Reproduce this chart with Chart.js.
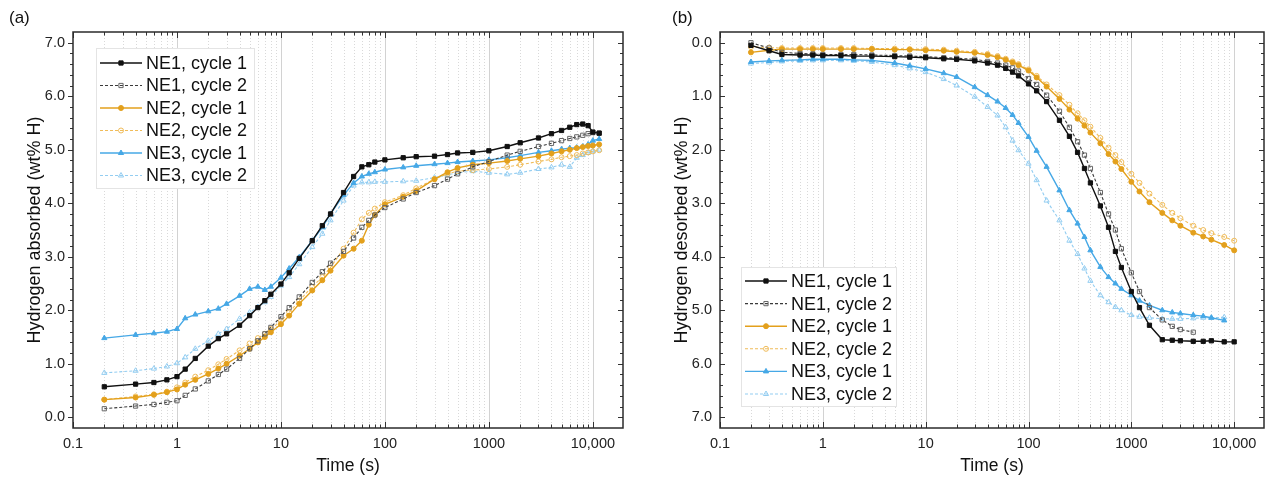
<!DOCTYPE html>
<html><head><meta charset="utf-8">
<script src="https://cdn.jsdelivr.net/npm/chart.js@4.4.1/dist/chart.umd.min.js"></script>
<style>
html,body{margin:0;padding:0;background:#fff;}
#wrap{position:relative;width:1269px;height:479px;overflow:hidden;background:#fff;}
#cA{position:absolute;left:0;top:0;}
#cB{position:absolute;left:640px;top:0;}
</style></head><body>
<div id="wrap"><canvas id="cA" width="640" height="479"></canvas><canvas id="cB" width="629" height="479"></canvas></div>
<script>
const FONT = '"Liberation Sans", Arial, sans-serif';

// ---- axis ticks ----
const xTickValues = [0.1, 1, 10, 100, 1000, 10000];
const xTickLabels = ['0.1', '1', '10', '100', '1000', '10,000'];
const yTickValues = [0, 1, 2, 3, 4, 5, 6, 7];
const seriesNames = ['NE1, cycle 1', 'NE1, cycle 2', 'NE2, cycle 1', 'NE2, cycle 2', 'NE3, cycle 1', 'NE3, cycle 2'];

// ---- (a) absorption: time (s) and wt% H ----
const timeAbs = [0.2,0.4,0.6,0.8,1,1.2,1.5,2,2.5,3,4,5,6,7,8,10,12,15,20,25,30,40,50,60,70,80,100,150,200,300,400,500,700,1000,1500,2000,3000,4000,5000,6000,7000,8000,9000,10000,11500];
const absNE1c1 = [0.57,0.62,0.65,0.70,0.76,0.90,1.10,1.33,1.47,1.56,1.72,1.90,2.05,2.18,2.30,2.49,2.70,2.97,3.30,3.58,3.80,4.20,4.50,4.68,4.72,4.77,4.81,4.85,4.87,4.88,4.91,4.94,4.95,4.98,5.06,5.13,5.22,5.30,5.36,5.42,5.47,5.48,5.45,5.33,5.31];
const absNE1c2 = [0.16,0.21,0.24,0.28,0.31,0.41,0.53,0.68,0.80,0.90,1.10,1.28,1.43,1.56,1.68,1.88,2.05,2.25,2.52,2.72,2.88,3.10,3.35,3.55,3.68,3.78,3.92,4.08,4.20,4.33,4.45,4.55,4.68,4.78,4.90,4.97,5.06,5.12,5.17,5.21,5.24,5.27,5.30,5.32,5.31];
const absNE2c1 = [0.33,0.37,0.42,0.47,0.52,0.61,0.70,0.81,0.91,1.00,1.15,1.28,1.40,1.50,1.59,1.74,1.90,2.12,2.37,2.56,2.74,3.02,3.15,3.30,3.60,3.78,3.98,4.12,4.23,4.45,4.58,4.66,4.72,4.75,4.79,4.83,4.88,4.93,4.97,5.00,5.03,5.05,5.07,5.08,5.10];
const absNE2c2 = [0.33,0.39,0.43,0.48,0.56,0.65,0.76,0.88,0.99,1.09,1.25,1.38,1.48,1.56,1.65,1.80,1.96,2.18,2.44,2.62,2.80,3.15,3.45,3.70,3.82,3.90,4.02,4.15,4.28,4.45,4.55,4.60,4.62,4.64,4.68,4.72,4.78,4.82,4.86,4.88,4.90,4.93,4.95,4.97,4.99];
const absNE3c1 = [1.48,1.54,1.57,1.60,1.65,1.85,1.92,1.98,2.03,2.12,2.27,2.40,2.44,2.38,2.44,2.61,2.78,2.99,3.30,3.55,3.80,4.15,4.38,4.50,4.55,4.58,4.63,4.67,4.70,4.73,4.75,4.77,4.79,4.81,4.85,4.89,4.95,4.98,5.01,5.03,5.04,5.06,5.10,5.17,5.20];
const absNE3c2 = [0.83,0.87,0.91,0.95,1.01,1.12,1.28,1.43,1.56,1.65,1.84,1.96,2.06,2.15,2.25,2.46,2.62,2.86,3.18,3.43,3.68,4.05,4.33,4.39,4.39,4.40,4.40,4.41,4.42,4.48,4.53,4.57,4.60,4.57,4.54,4.57,4.64,4.67,4.72,4.68,4.85,4.90,4.94,4.97,5.00];

// ---- (b) desorption: time (s) and wt% H ----
const timeDes = [0.2,0.3,0.4,0.6,0.8,1,1.5,2,3,5,7,10,15,20,30,40,50,60,70,80,100,120,150,200,250,300,350,400,500,600,700,800,1000,1200,1500,2000,2500,3000,4000,5000,6000,8000,10000];
const desNE1c1 = [0.05,0.15,0.22,0.23,0.23,0.24,0.24,0.25,0.25,0.26,0.27,0.28,0.30,0.31,0.34,0.38,0.42,0.48,0.55,0.62,0.77,0.90,1.10,1.45,1.75,2.05,2.35,2.62,3.05,3.45,3.90,4.20,4.65,4.95,5.28,5.55,5.56,5.57,5.58,5.58,5.57,5.59,5.59];
const desNE1c2 = [0.00,0.10,0.18,0.20,0.21,0.22,0.22,0.22,0.23,0.24,0.25,0.26,0.28,0.29,0.31,0.35,0.38,0.42,0.47,0.53,0.67,0.78,0.98,1.28,1.58,1.85,2.10,2.35,2.80,3.20,3.50,3.85,4.30,4.65,4.95,5.18,5.30,5.36,5.41,null,null,null,null];
const desNE2c1 = [0.18,0.14,0.12,0.12,0.12,0.12,0.12,0.12,0.12,0.13,0.13,0.14,0.15,0.17,0.19,0.23,0.27,0.32,0.37,0.42,0.52,0.65,0.82,1.05,1.25,1.42,1.55,1.68,1.88,2.08,2.22,2.36,2.60,2.78,2.98,3.18,3.32,3.42,3.55,3.62,3.68,3.78,3.88];
const desNE2c2 = [0.08,0.09,0.10,0.10,0.10,0.10,0.10,0.10,0.11,0.11,0.12,0.12,0.13,0.15,0.17,0.21,0.25,0.30,0.35,0.40,0.50,0.62,0.78,0.98,1.16,1.32,1.45,1.57,1.78,1.96,2.10,2.23,2.45,2.62,2.82,3.03,3.18,3.28,3.42,3.50,3.56,3.63,3.70];
const desNE3c1 = [0.36,0.34,0.33,0.32,0.31,0.31,0.31,0.32,0.33,0.38,0.43,0.49,0.57,0.64,0.83,0.98,1.10,1.22,1.35,1.50,1.76,2.02,2.32,2.76,3.13,3.38,3.63,3.88,4.19,4.38,4.50,4.60,4.72,4.82,4.91,5.00,5.04,5.06,5.09,5.11,5.14,5.19,null];
const desNE3c2 = [0.39,0.37,0.35,0.34,0.33,0.33,0.33,0.34,0.36,0.42,0.48,0.55,0.68,0.80,1.01,1.20,1.36,1.58,1.83,2.01,2.26,2.57,2.95,3.32,3.70,3.95,4.22,4.45,4.72,4.85,4.94,5.00,5.09,5.12,5.14,5.16,5.16,5.16,5.15,5.14,5.14,5.13,null];

// ---- styles ----
const seriesColors = ['#111111', '#3a3a3a', '#E3A01C', '#F0BC5A', '#46A8E6', '#93CDF1'];
const markerColors = ['#111111', '#666666', '#E3A01C', '#F0BC5A', '#46A8E6', '#93CDF1'];
const markerStyles = ['rect', 'rect', 'circle', 'circle', 'triangle', 'triangle'];
const markerFilled = [true, false, true, false, true, false];
const lineDashes = [[], [3, 2], [], [3, 2], [], [3, 2]];

function makeDatasets(times, seriesVals) {
  return seriesVals.map((vals, i) => ({
    label: seriesNames[i],
    data: times.map((t, k) => ({x: t, y: vals[k]})).filter(p => p.y !== null),
    borderColor: seriesColors[i],
    borderWidth: markerFilled[i] ? 1.4 : 1.1,
    borderDash: lineDashes[i],
    pointStyle: markerStyles[i],
    pointRadius: markerStyles[i] === 'rect' ? 3 : (markerStyles[i] === 'circle' ? 2.5 : 3),
    pointBorderWidth: 1,
    pointBorderColor: markerColors[i],
    pointBackgroundColor: markerFilled[i] ? markerColors[i] : 'rgba(255,255,255,0)',
    tension: 0,
    fill: false
  }));
}

function drawMarker(ctx, ds, x, y) {
  ctx.fillStyle = ds.pointBackgroundColor;
  ctx.strokeStyle = ds.pointBorderColor;
  ctx.lineWidth = ds.pointBorderWidth;
  Chart.helpers.drawPoint(ctx, {pointStyle: ds.pointStyle, radius: ds.pointRadius, rotation: 0, borderWidth: ds.pointBorderWidth}, x, y);
}

const boxPlugin = {
  id: 'boxPlugin',
  beforeDatasetsDraw(chart, args, o) {
    const {ctx, chartArea: a, scales: {x}} = chart;
    ctx.save();
    ctx.beginPath(); ctx.rect(a.left, a.top, a.right - a.left, a.bottom - a.top); ctx.clip();
    for (let e = -1; e <= 4; e++) {
      for (let m = 1; m <= 9; m++) {
        const v = m * Math.pow(10, e);
        if (v <= x.min * 1.0001 || v > x.max) continue;
        const px = Math.round(x.getPixelForValue(v)) + 0.5;
        ctx.beginPath();
        ctx.lineWidth = 1;
        if (m === 1) { ctx.strokeStyle = '#d2d2d2'; ctx.setLineDash([]); }
        else { ctx.strokeStyle = '#d9d9d9'; ctx.setLineDash([1, 2]); }
        ctx.moveTo(px, a.top); ctx.lineTo(px, a.bottom); ctx.stroke();
      }
    }
    ctx.restore();
  },
  afterDatasetsDraw(chart, args, o) {
    const {ctx, chartArea: a, scales: {x, y}} = chart;
    ctx.save();
    ctx.strokeStyle = '#333'; ctx.lineWidth = 1; ctx.setLineDash([]);
    ctx.beginPath();
    for (let e = -1; e <= 4; e++) {
      for (let m = 1; m <= 9; m++) {
        const v = m * Math.pow(10, e);
        if (v < x.min || v > x.max) continue;
        const px = Math.round(x.getPixelForValue(v)) + 0.5;
        const len = m === 1 ? 6 : 3.5;
        ctx.moveTo(px, a.bottom); ctx.lineTo(px, a.bottom - len);
        ctx.moveTo(px, a.top); ctx.lineTo(px, a.top + len);
      }
    }
    for (let i = 0; i <= 35; i++) {
      const v = i * 0.2;
      const py = Math.round(y.getPixelForValue(v)) + 0.5;
      const len = i % 5 === 0 ? 5 : 3;
      ctx.moveTo(a.left, py); ctx.lineTo(o.leftOut ? a.left - len : a.left + len, py);
      ctx.moveTo(a.right, py); ctx.lineTo(a.right - len, py);
    }
    ctx.stroke();
    ctx.lineWidth = 1.5; ctx.strokeStyle = '#2b2b2b';
    ctx.strokeRect(a.left, a.top, a.right - a.left, a.bottom - a.top);
    ctx.restore();
  },
  afterDraw(chart, args, o) {
    const ctx = chart.ctx;
    ctx.save();
    ctx.font = '17px ' + FONT; ctx.fillStyle = '#111'; ctx.textBaseline = 'middle'; ctx.textAlign = 'left';
    ctx.fillText(o.panel, o.panelX, 18);
    const L = o.legend;
    ctx.fillStyle = '#fff'; ctx.fillRect(L.x, L.y, L.w, L.h);
    ctx.strokeStyle = '#e4e4e4'; ctx.lineWidth = 1; ctx.strokeRect(L.x + 0.5, L.y + 0.5, L.w, L.h);
    chart.data.datasets.forEach((ds, i) => {
      const cy = L.y + L.first + i * L.row;
      const x0 = L.x + 4, x1 = x0 + 42;
      ctx.strokeStyle = ds.borderColor; ctx.lineWidth = ds.borderWidth; ctx.setLineDash(ds.borderDash);
      ctx.beginPath(); ctx.moveTo(x0, cy); ctx.lineTo(x1, cy); ctx.stroke();
      ctx.setLineDash([]);
      drawMarker(ctx, ds, (x0 + x1) / 2, cy);
      ctx.fillStyle = '#111'; ctx.font = '18px ' + FONT; ctx.textBaseline = 'middle';
      ctx.fillText(ds.label, x1 + 4, cy + 1);
    });
    ctx.restore();
  }
};

function makeChart(id, datasets, cfg) {
  return new Chart(document.getElementById(id), {
    type: 'line',
    data: {datasets},
    plugins: [boxPlugin],
    options: {
      responsive: false, animation: false, events: [],
      layout: {padding: {left: 0, right: cfg.padRight, top: 32, bottom: 0}},
      plugins: {legend: {display: false}, tooltip: {enabled: false}, boxPlugin: cfg.box},
      scales: {
        x: {
          type: 'logarithmic', min: 0.1, max: 19500,
          afterBuildTicks: s => { s.ticks = xTickValues.map(v => ({value: v})); },
          afterFit: s => { s.height = 51; },
          grid: {display: false, drawTicks: false}, border: {display: false},
          ticks: {autoSkip: false, maxRotation: 0, padding: 7, color: '#222', font: {family: FONT, size: 14.5},
                  callback: v => xTickLabels[xTickValues.indexOf(v)]},
          title: {display: true, text: 'Time (s)', color: '#111', font: {family: FONT, size: 17.5}, padding: {top: 0, bottom: 2}}
        },
        y: {
          type: 'linear', min: -0.2, max: 7.2, reverse: cfg.reverse,
          afterBuildTicks: s => { s.ticks = yTickValues.map(v => ({value: v})); },
          afterFit: s => { s.width = cfg.yWidth; },
          grid: {display: false, drawTicks: false}, border: {display: false},
          ticks: {padding: 8, color: '#222', font: {family: FONT, size: 14.5}, callback: v => Number(v).toFixed(1)},
          title: {display: true, text: cfg.yTitle, color: '#111', font: {family: FONT, size: 18}, padding: {top: cfg.titlePad, bottom: 0}}
        }
      }
    }
  });
}

makeChart('cA', makeDatasets(timeAbs, [absNE1c1, absNE1c2, absNE2c1, absNE2c2, absNE3c1, absNE3c2]), {
  padRight: 17, yWidth: 73, reverse: false, yTitle: 'Hydrogen absorbed (wt% H)', titlePad: 24,
  box: {leftOut: true, panel: '(a)', panelX: 9, legend: {x: 96, y: 48, w: 158, h: 140, first: 15, row: 22.5}}
});
makeChart('cB', makeDatasets(timeDes, [desNE1c1, desNE1c2, desNE2c1, desNE2c2, desNE3c1, desNE3c2]), {
  padRight: 1, yWidth: 80, reverse: true, yTitle: 'Hydrogen desorbed (wt% H)', titlePad: 31,
  box: {leftOut: false, panel: '(b)', panelX: 32, legend: {x: 101, y: 267, w: 155, h: 139, first: 14, row: 22.6}}
});
</script>
</body></html>
